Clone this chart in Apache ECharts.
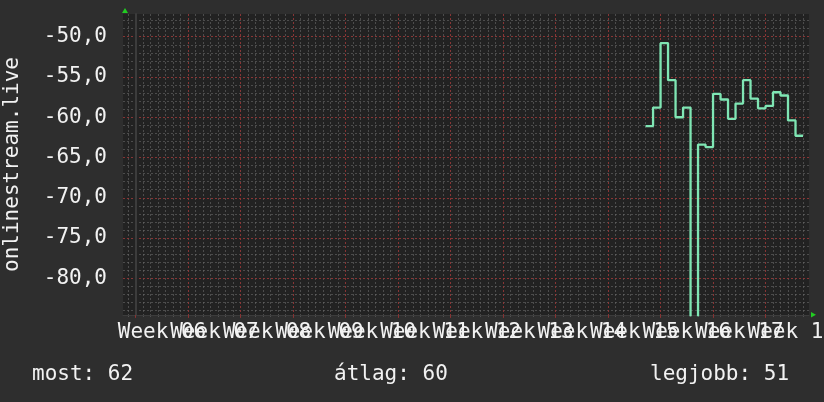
<!DOCTYPE html>
<html>
<head>
<meta charset="utf-8">
<script src="https://cdn.jsdelivr.net/npm/echarts@6/dist/echarts.min.js"></script>
<style>
html,body{margin:0;padding:0;background:#2e2e2e;}
#chart{width:824px;height:402px;}
</style>
</head>
<body>
<div id="chart"></div>
<script>
// ---- data ----
const axisTitle = 'onlinestream.live';
const weekLabels = ['Week 06','Week 07','Week 08','Week 09','Week 10','Week 11','Week 12','Week 13','Week 14','Week 15','Week 16','Week 17','Week 18'];
const weekStartDays = [0, 7, 14, 21, 28, 35, 42, 49, 56, 63, 70, 77, 84];
const dataStartDay = 68;
const dailyValues = [-61.1, -58.8, -50.8, -55.4, -60.0, -58.8, -85.0, -63.4, -63.7, -57.1, -57.8,
                     -60.2, -58.3, -55.4, -57.7, -58.9, -58.6, -56.9, -57.3, -60.4, -62.3];
const yTickValues = [-80, -75, -70, -65, -60, -55, -50];
const summaryNames = ['most', 'átlag', 'legjobb'];

// ---- derived ----
const X_MIN = -1.7, X_MAX = 89.8, Y_MIN = -84.56, Y_MAX = -47.18;
const linePoints = dailyValues.map((v, i) => [dataStartDay + i, v]);
linePoints.push([dataStartDay + dailyValues.length, dailyValues[dailyValues.length - 1]]);
const minorDays = [];
for (let d = Math.ceil(X_MIN); d <= Math.floor(X_MAX); d++) minorDays.push(d);
const minorY = [];
for (let v = Math.ceil(Y_MIN); v <= Math.floor(Y_MAX); v++) minorY.push(v);
// week labels sit in the middle of each week; empty guard labels at both ends
const labelDays = [X_MIN].concat(weekStartDays.map(d => d + 3.5), [X_MAX]);
function weekLabel(v) {
  const i = weekStartDays.findIndex(d => Math.abs(d + 3.5 - v) < 1e-6);
  return i >= 0 ? weekLabels[i] : '';
}

const current = Math.round(-dailyValues[dailyValues.length - 1]);
const average = Math.round(-dailyValues.reduce((a, b) => a + b, 0) / dailyValues.length);
const best = Math.round(-Math.max(...dailyValues));
const summaryValues = [current, average, best];

const FONT = '"DejaVu Sans Mono", "Liberation Mono", monospace';
const FS = 21;
const TEXT = '#f2f2f2';
const MAJOR = 'rgba(150,48,48,0.8)';
const MINOR = 'rgba(105,105,105,0.6)';

const chart = echarts.init(document.getElementById('chart'), null, {renderer: 'canvas'});
chart.setOption({
  backgroundColor: '#2e2e2e',
  animation: false,
  grid: {left: 123, right: 15, top: 14, bottom: 87, show: true, backgroundColor: '#222222', borderWidth: 0,
         containLabel: false, outerBoundsMode: 'none'},
  xAxis: [
    {
      type: 'value', min: X_MIN, max: X_MAX, z: 1,
      axisLine: {show: true, lineStyle: {color: '#3c3c3c', width: 1}},
      axisTick: {show: true, customValues: weekStartDays, length: 3, lineStyle: {color: MAJOR}},
      axisLabel: {
        show: true, customValues: labelDays, margin: 7, hideOverlap: false,
        formatter: weekLabel,
        color: TEXT, fontFamily: FONT, fontSize: FS
      },
      splitLine: {show: true, lineStyle: {color: MAJOR, type: [2, 2], width: 1}}
    },
    {
      type: 'value', min: X_MIN, max: X_MAX, z: 0, position: 'bottom',
      axisLine: {show: false},
      axisTick: {show: true, customValues: minorDays, length: 2, lineStyle: {color: MINOR}},
      axisLabel: {show: false},
      splitLine: {show: true, lineStyle: {color: MINOR, type: [2, 2], width: 1}}
    }
  ],
  yAxis: [
    {
      type: 'value', min: Y_MIN, max: Y_MAX, z: 1,
      name: axisTitle, nameLocation: 'middle', nameGap: 100,
      nameTextStyle: {color: TEXT, fontFamily: FONT, fontSize: FS},
      axisLine: {show: true, lineStyle: {color: '#3c3c3c', width: 2}},
      axisTick: {show: false, customValues: yTickValues},
      axisLabel: {
        show: true, customValues: yTickValues, margin: 16,
        showMinLabel: true, showMaxLabel: true, hideOverlap: false,
        formatter: v => v.toFixed(1).replace('.', ','),
        color: TEXT, fontFamily: FONT, fontSize: FS
      },
      splitLine: {show: true, lineStyle: {color: MAJOR, type: [2, 2], width: 1}}
    },
    {
      type: 'value', min: Y_MIN, max: Y_MAX, z: 0, position: 'left',
      axisLine: {show: false},
      axisTick: {show: false, customValues: minorY},
      axisLabel: {show: false},
      splitLine: {show: true, lineStyle: {color: MINOR, type: [2, 2], width: 1}}
    }
  ],
  series: [{
    type: 'line', xAxisIndex: 0, yAxisIndex: 0, z: 5,
    step: 'end', showSymbol: false, clip: true,
    lineStyle: {color: '#7fe6b4', width: 2.3},
    data: linePoints
  }],
  graphic: [
    {type: 'polygon', shape: {points: [[122, 13], [128, 13], [125, 8]]}, style: {fill: '#22cc22'}},
    {type: 'polygon', shape: {points: [[811, 312], [811, 317.5], [816, 314.75]]}, style: {fill: '#22cc22'}},
    {type: 'text', x: 32, y: 375, style: {text: summaryNames[0] + ': ' + summaryValues[0], fill: TEXT, font: FS + 'px ' + FONT, verticalAlign: 'middle'}},
    {type: 'text', x: 334, y: 375, style: {text: summaryNames[1] + ': ' + summaryValues[1], fill: TEXT, font: FS + 'px ' + FONT, verticalAlign: 'middle'}},
    {type: 'text', x: 650, y: 375, style: {text: summaryNames[2] + ': ' + summaryValues[2], fill: TEXT, font: FS + 'px ' + FONT, verticalAlign: 'middle'}}
  ]
});
</script>
</body>
</html>
